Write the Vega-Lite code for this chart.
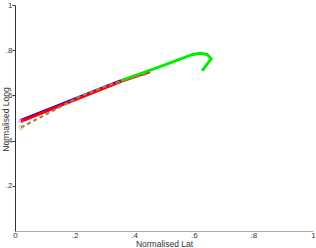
{
  "$schema": "https://vega.github.io/schema/vega-lite/v6.json",
  "width": 298,
  "height": 226,
  "autosize": "none",
  "padding": {"left": 15, "top": 5, "right": 3, "bottom": 17},
  "background": "white",
  "config": {
    "view": {"stroke": null},
    "font": "Liberation Sans",
    "axis": {"grid": false, "labelFont": "Liberation Sans", "titleFont": "Liberation Sans", "labelFontSize": 8, "titleFontSize": 8.5, "titleFontWeight": "normal", "labelColor": "#333", "titleColor": "#333"}
  },
  "datasets": {
    "lines": [
      {"s": "blue", "i": 0, "x": 0.02, "y": 0.489},
      {"s": "blue", "i": 1, "x": 0.356, "y": 0.665},
      {"s": "red", "i": 0, "x": 0.02, "y": 0.485},
      {"s": "red", "i": 1, "x": 0.356, "y": 0.662},
      {"s": "red", "i": 2, "x": 0.453, "y": 0.705},
      {"s": "green", "i": 0, "x": 0.356, "y": 0.665},
      {"s": "green", "i": 1, "x": 0.487, "y": 0.727},
      {"s": "green", "i": 2, "x": 0.594, "y": 0.78},
      {"s": "green", "i": 3, "x": 0.621, "y": 0.786},
      {"s": "green", "i": 4, "x": 0.645, "y": 0.781},
      {"s": "green", "i": 5, "x": 0.658, "y": 0.762},
      {"s": "green", "i": 6, "x": 0.628, "y": 0.709},
      {"s": "brown", "i": 0, "x": 0.02, "y": 0.458},
      {"s": "brown", "i": 1, "x": 0.218, "y": 0.595},
      {"s": "brown", "i": 2, "x": 0.319, "y": 0.648},
      {"s": "brown", "i": 3, "x": 0.453, "y": 0.7}
    ],
    "starts": [
      {"s": "a", "x": 0.02, "y": 0.487},
      {"s": "b", "x": 0.02, "y": 0.458}
    ]
  },
  "layer": [
    {
      "data": {"name": "lines"},
      "transform": [{"filter": "datum.s != 'brown'"}],
      "mark": {"type": "line", "strokeWidth": 3},
      "encoding": {
        "x": {"field": "x", "type": "quantitative", "scale": {"domain": [0, 1]},
          "axis": {"values": [0, 0.2, 0.4, 0.6, 0.8, 1], "title": "Normalised Lat", "labelExpr": "datum.value == 0 ? '0' : datum.value == 1 ? '1' : replace(format(datum.value, '.1f'), '0.', '.')", "domainColor": "#aaa", "ticks": false, "labelPadding": 0, "titleY": 15, "titleBaseline": "alphabetic", "labelFlush": false}},
        "y": {"field": "y", "type": "quantitative", "scale": {"domain": [0, 1]},
          "axis": {"values": [0.2, 0.4, 0.6, 0.8, 1], "title": "Normalised Long", "labelExpr": "datum.value == 1 ? '1' : replace(format(datum.value, '.1f'), '0.', '.')", "domainColor": "#333", "tickColor": "#333", "tickSize": 3, "labelPadding": 0, "titleX": -7, "titleY": 114, "titleBaseline": "alphabetic", "labelFlush": false}},
        "color": {"field": "s", "type": "nominal", "scale": {"domain": ["blue", "red", "green"], "range": ["#0000ff", "#ff0000", "#00ee00"]}, "legend": null},
        "order": {"field": "i", "type": "quantitative"}
      }
    },
    {
      "data": {"name": "lines"},
      "transform": [{"filter": "datum.s == 'brown'"}],
      "mark": {"type": "line", "strokeWidth": 2.2, "color": "#a87c4c", "strokeDash": [4, 3]},
      "encoding": {
        "x": {"field": "x", "type": "quantitative"},
        "y": {"field": "y", "type": "quantitative"},
        "order": {"field": "i", "type": "quantitative"}
      }
    },
    {
      "data": {"name": "starts"},
      "mark": {"type": "point", "size": 16, "strokeWidth": 1, "filled": false},
      "encoding": {
        "x": {"field": "x", "type": "quantitative"},
        "y": {"field": "y", "type": "quantitative"},
        "color": {"field": "s", "type": "nominal", "scale": {"domain": ["a", "b"], "range": ["#9966cc", "#99cc33"]}, "legend": null}
      }
    }
  ],
  "resolve": {"scale": {"color": "independent"}}
}
